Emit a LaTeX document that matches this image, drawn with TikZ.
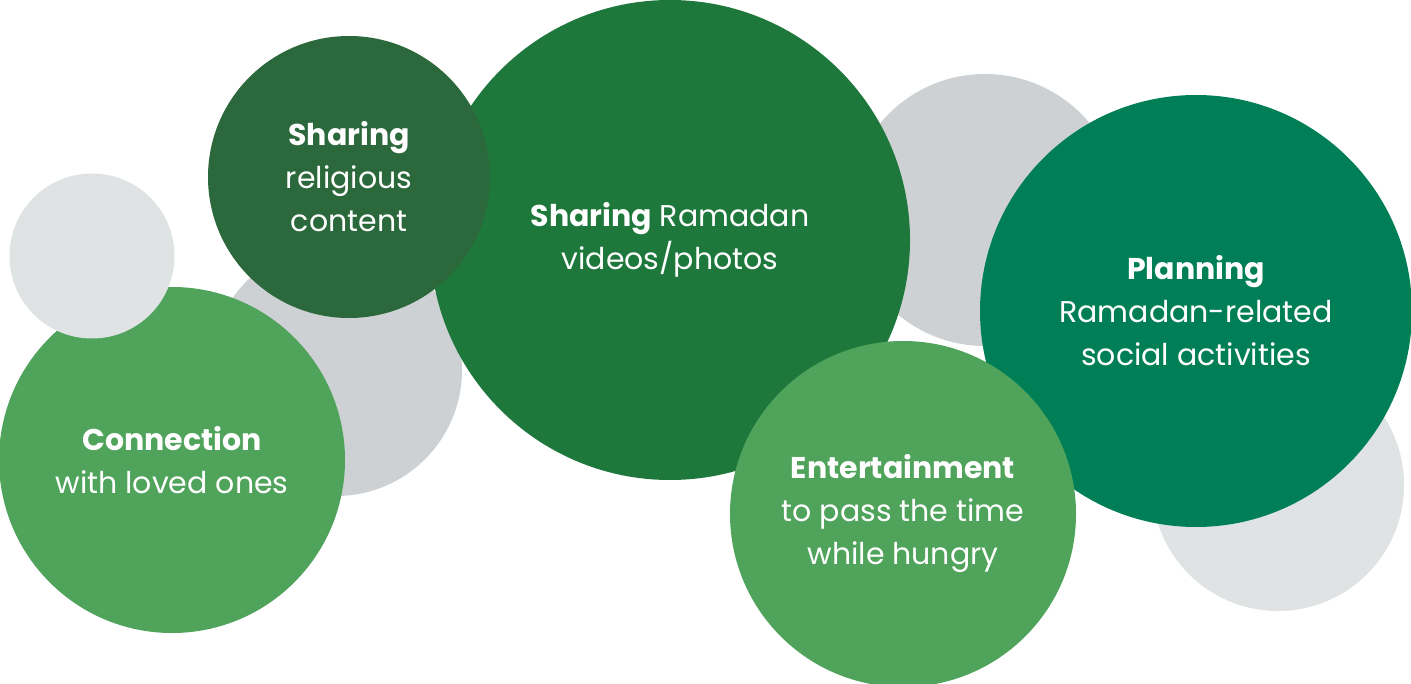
\documentclass[tikz,border=0pt]{standalone}
\usepackage{fontspec}
\setmainfont{Poppins}
\usepackage{tikz}
\usetikzlibrary{shapes,positioning}
\definecolor{paleGray}{HTML}{E0E3E4}
\definecolor{midGray}{HTML}{CDD1D3}
\definecolor{leafGreen}{HTML}{4FA35A}
\definecolor{forestGreen}{HTML}{2B683B}
\definecolor{deepGreen}{HTML}{1E783C}
\definecolor{tealGreen}{HTML}{007F57}
\tikzset{%
  % Specifications for style of bubbles:
          base/.style = {circle, inner sep=0pt, text=white, align=center,
                         font=\fontsize{30}{43}\selectfont},
     paleBlob/.style = {base, fill=paleGray},
      midBlob/.style = {base, fill=midGray},
   leafBubble/.style = {base, fill=leafGreen},
 forestBubble/.style = {base, fill=forestGreen},
   deepBubble/.style = {base, fill=deepGreen},
   tealBubble/.style = {base, fill=tealGreen},
}

\begin{document}
\begin{tikzpicture}[x=1pt, y=-1pt]
    \useasboundingbox (0,0) rectangle (1411,684);
    \clip (0,0) rectangle (1411,684);
    \fill[white] (0,0) rectangle (1411,684);
                    \node (grayMid)       [midBlob, minimum size=252pt]     at (336,370) {};
                    \node (connection)    [leafBubble, minimum size=346pt]  at (172,460) {\textbf{Connection}\\with loved ones};
                    \node (grayLeft)      [paleBlob, minimum size=165pt]    at (92,256)  {};
                    \node (grayTop)       [midBlob, minimum size=272pt]     at (985,210) {};
                    \node (ramadan)       [deepBubble, minimum size=480pt]  at (670,240) {\textbf{Sharing} Ramadan\\videos/photos};
                    \node (religious)     [forestBubble, minimum size=282pt] at (349,177) {\textbf{Sharing}\\religious\\content};
                    \node (grayBottom)    [paleBlob, minimum size=252pt]    at (1278,485) {};
                    \node (planning)      [tealBubble, minimum size=432pt]  at (1196,311) {\textbf{Planning}\\Ramadan-related\\social activities};
                    \node (entertainment) [leafBubble, minimum size=346pt]  at (903,514) {\textbf{Entertainment}\\to pass the time\\while hungry};
\end{tikzpicture}
\end{document}
